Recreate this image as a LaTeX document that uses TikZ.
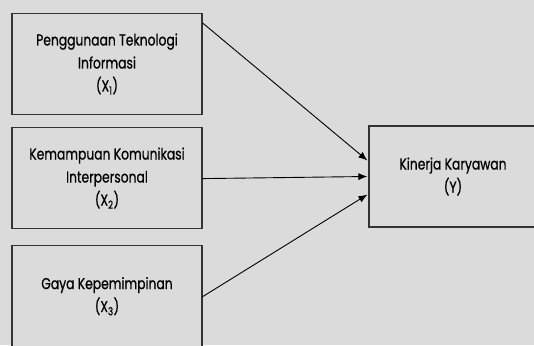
\documentclass[tikz,border=0pt]{standalone}
\usepackage{fontspec}
\setmainfont[FakeStretch=0.78, FakeBold=0.7]{Poppins}
\usepackage{tikz}
\usetikzlibrary{arrows.meta, positioning, calc}
\definecolor{bggray}{HTML}{DBDBDB}
\definecolor{edgegray}{HTML}{333333}
\tikzset{
    varbox/.style={rectangle, draw=edgegray, line width=1.1pt, fill=bggray, minimum width=190pt, minimum height=101pt, align=center, font=\fontsize{15.8}{23}\selectfont},
    ybox/.style={varbox, minimum width=168pt},
    arrow/.style={-{Latex[length=9pt, width=7pt]}, line width=0.9pt, draw=black}
}

\begin{document}
\begin{tikzpicture}[x=1pt, y=1pt, node distance=12pt and 167pt]
        \clip (0,0) rectangle (534,345);
        \fill[bggray] (0,0) rectangle (534,345);
        \node[varbox] (xa) at (107,281) {Penggunaan Teknologi\\Informasi\\(X\textsubscript{1})};
        \node[varbox, below=of xa] (xb) {Kemampuan Komunikasi\\Interpersonal\\(X\textsubscript{2})};
        \node[varbox, below=16pt of xb] (xc) {Gaya Kepemimpinan\\(X\textsubscript{3})};
        \node[ybox] (ky) at (453,168.5) {Kinerja Karyawan\\(Y)};

        \draw[arrow] ($(xa.north east)+(0,-10)$) -- ($(ky.west)+(-1,16)$);
        \draw[arrow] ($(xb.east)+(0,-0.5)$) -- ($(ky.west)+(-1,0)$);
        \draw[arrow] ($(xc.east)+(0,-0.5)$) -- ($(ky.west)+(-1,-18)$);
    \end{tikzpicture}
\end{document}
